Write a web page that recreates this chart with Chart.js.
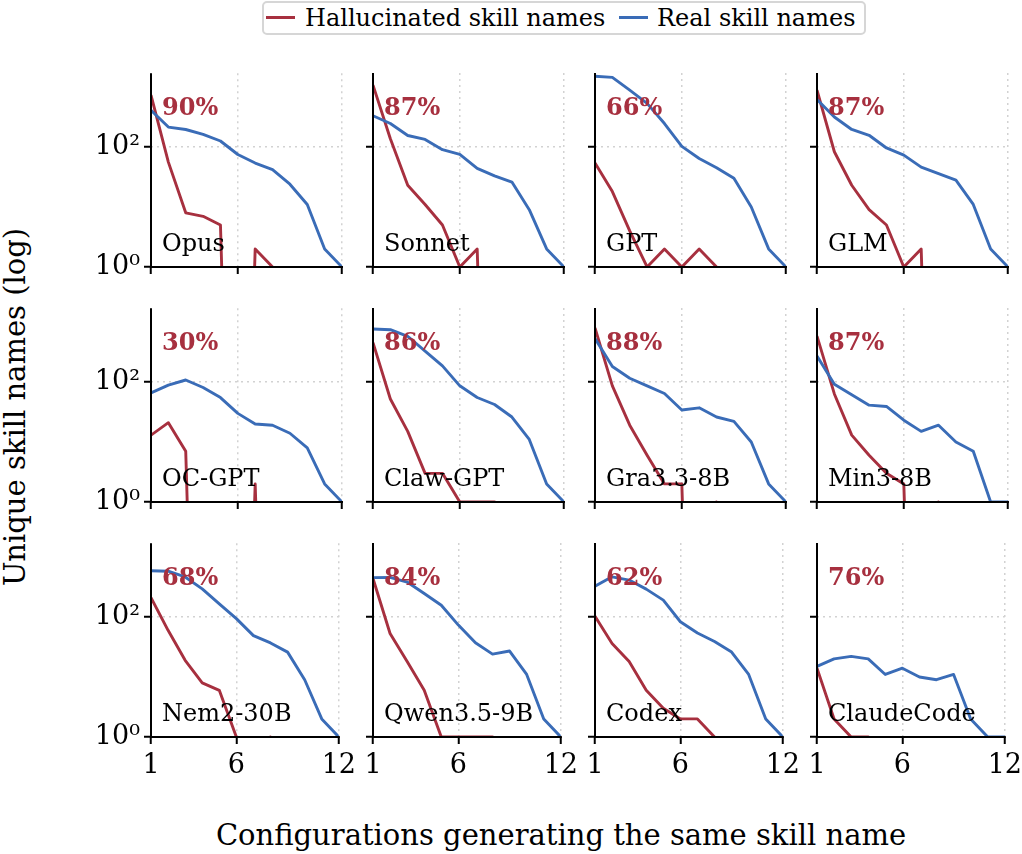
<!DOCTYPE html>
<html>
<head>
<meta charset="utf-8">
<script src="https://cdn.jsdelivr.net/npm/chart.js@4.4.1/dist/chart.umd.min.js"></script>
<style>
  body { margin: 0; background: #fff; font-family: 'DejaVu Serif', serif; }
  #fig { position: relative; width: 1022px; height: 854px; overflow: hidden; }
  #fig canvas { position: absolute; }
  .txt { position: absolute; white-space: nowrap; line-height: 1; font-family: 'DejaVu Serif', serif; }
  .pct { font-size: 24px; font-weight: bold; color: #a7303f; }
  .name { font-size: 24px; color: #000; }
  .legend-box { position: absolute; left: 262px; top: 1px; width: 600px; height: 30px;
                border: 2px solid #d6d6d6; border-radius: 5px; }
  .swatch { position: absolute; height: 3px; width: 29px; top: 16px; }
  .axis-title { position: absolute; font-family: 'DejaVu Serif', serif; font-size: 29px;
                white-space: nowrap; line-height: 1; }
</style>
</head>
<body>
<div id="fig">
  <div class="legend-box"></div>
  <div class="swatch" style="left:266px;background:#a7303f"></div>
  <div class="txt" style="left:305px;top:6px;font-size:24px">Hallucinated skill names</div>
  <div class="swatch" style="left:619px;background:#3a6cb7"></div>
  <div class="txt" style="left:657px;top:6px;font-size:24px">Real skill names</div>
  <div class="axis-title" style="left:15px;top:407px;transform:translate(-50%,-50%) rotate(-90deg)">Unique skill names (log)</div>
  <div class="axis-title" style="left:561px;top:835px;transform:translate(-50%,-50%)">Configurations generating the same skill name</div>
</div>
<script>
// x = number of configurations generating the same name
const configs = [1, 2, 3, 4, 5, 6, 7, 8, 9, 10, 11, 12];
const xTicks = [1, 6, 12];
const yTicks = [1, 100];
const yTickLabels = ['10⁰', '10²'];

const panelNames = ['Opus', 'Sonnet', 'GPT', 'GLM',
                    'OC-GPT', 'Claw-GPT', 'Gra3.3-8B', 'Min3-8B',
                    'Nem2-30B', 'Qwen3.5-9B', 'Codex', 'ClaudeCode'];
const hallucinatedShare = ['90%', '87%', '66%', '87%',
                           '30%', '86%', '88%', '87%',
                           '68%', '84%', '62%', '76%'];

// unique skill names per x value (0 = none)
const opusHal = [730, 56, 8, 7, 5, 0, 2, 1, 0, 0, 0, 0];
const opusReal = [410, 215, 196, 163, 126, 75, 54, 42, 24, 11, 2, 1];
const sonnetHal = [1070, 137, 23, 11, 5, 1, 2, 0, 0, 0, 0, 0];
const sonnetReal = [330, 245, 155, 133, 90, 75, 44, 33, 26, 9, 2, 1];
const gptHal = [54, 18, 4, 1, 2, 1, 2, 1, 0, 0, 0, 0];
const gptReal = [1500, 1440, 880, 530, 245, 102, 64, 45, 30, 10, 2, 1];
const glmHal = [880, 83, 23, 9, 5, 1, 2, 0, 0, 0, 0, 0];
const glmReal = [615, 315, 195, 156, 96, 73, 46, 36, 28, 11, 2, 1];
const ocGptHal = [13, 21, 7, 0, 0, 0, 2, 0, 0, 0, 0, 0];
const ocGptReal = [66, 89, 108, 81, 55, 30, 20, 19, 14, 8, 2, 1];
const clawGptHal = [450, 52, 15, 3, 3, 1, 1, 1, 0, 0, 0, 0];
const clawGptReal = [760, 740, 575, 325, 185, 86, 55, 42, 26, 11, 2, 1];
const graHal = [790, 86, 19, 6, 2, 2, 0, 1, 0, 0, 0, 0];
const graReal = [530, 180, 115, 86, 64, 34, 37, 26, 22, 10, 2, 1];
const minHal = [580, 63, 13, 6, 3, 2, 0, 1, 0, 0, 0, 0];
const minReal = [270, 91, 61, 41, 39, 23, 15, 19, 10, 7, 1, 1];
const nemHal = [210, 60, 19, 8, 6, 1, 0, 1, 0, 0, 0, 0];
const nemReal = [590, 580, 465, 295, 166, 94, 49, 37, 26, 9, 2, 1];
const qwenHal = [435, 53, 18, 6, 1, 1, 1, 1, 0, 0, 0, 0];
const qwenReal = [450, 455, 380, 245, 156, 73, 37, 24, 27, 11, 2, 1];
const codexHal = [102, 36, 18, 6, 3, 2, 2, 1, 0, 0, 0, 0];
const codexReal = [325, 465, 410, 290, 190, 83, 54, 39, 26, 11, 2, 1];
const claudeCodeHal = [14, 2, 1, 1, 0, 0, 0, 0, 0, 0, 0, 0];
const claudeCodeReal = [15, 20, 22, 20, 11, 14, 10, 9, 11, 2, 1, 1];

const halSeries = [opusHal, sonnetHal, gptHal, glmHal, ocGptHal, clawGptHal,
                   graHal, minHal, nemHal, qwenHal, codexHal, claudeCodeHal];
const realSeries = [opusReal, sonnetReal, gptReal, glmReal, ocGptReal, clawGptReal,
                    graReal, minReal, nemReal, qwenReal, codexReal, claudeCodeReal];

const RED = '#a7303f';
const BLUE = '#3a6cb7';
const Y_MAX = 1700;

// layout of the 3x4 grid (plot areas in page pixels)
const plotLeft = [151, 373, 595, 817];
const plotTop = [73, 308, 543];
const PLOT_W = 191, PLOT_H = 194;
const AXIS_W = 80, AXIS_H = 50, PAD_T = 20, PAD_R = 20;

const fig = document.getElementById('fig');

// zero counts are clipped far below the axis, like a log plot does
const toPoints = (arr) => arr.map((v, i) => ({ x: configs[i], y: v === 0 ? 1e-9 : v }));

// draw the left/bottom spines over the lines
const spinesOnTop = {
    id: 'spinesOnTop',
    afterDatasetsDraw(chart) {
        const { ctx, chartArea: a } = chart;
        ctx.save();
        ctx.strokeStyle = '#000';
        ctx.lineWidth = 2;
        ctx.beginPath();
        ctx.moveTo(a.left, a.top);
        ctx.lineTo(a.left, a.bottom + 1);
        ctx.moveTo(a.left - 1, a.bottom);
        ctx.lineTo(a.right + 1, a.bottom);
        ctx.stroke();
        ctx.restore();
    }
};

const gridOpts = {
    color: '#d2d2d2',
    lineWidth: 1.5,
    tickColor: '#000',
    tickLength: 7,
    tickWidth: 2,
    tickBorderDash: []
};
const tickFont = { family: 'DejaVu Serif', size: 27 };

const addText = (cls, text, left, top) => {
    const el = document.createElement('div');
    el.className = 'txt ' + cls;
    el.textContent = text;
    el.style.left = left + 'px';
    el.style.top = top + 'px';
    fig.appendChild(el);
};

const makePanel = (idx) => {
    const row = Math.floor(idx / 4);
    const col = idx % 4;
    const left = plotLeft[col];
    const top = plotTop[row];

    const canvas = document.createElement('canvas');
    canvas.width = AXIS_W + PLOT_W + PAD_R;
    canvas.height = PAD_T + PLOT_H + AXIS_H;
    canvas.style.left = (left - AXIS_W) + 'px';
    canvas.style.top = (top - PAD_T) + 'px';
    fig.appendChild(canvas);

    new Chart(canvas.getContext('2d'), {
        type: 'line',
        data: {
            datasets: [{
                label: 'Hallucinated skill names',
                data: toPoints(halSeries[idx]),
                borderColor: RED,
                order: 1
            }, {
                label: 'Real skill names',
                data: toPoints(realSeries[idx]),
                borderColor: BLUE,
                order: 0
            }]
        },
        options: {
            responsive: false,
            animation: false,
            devicePixelRatio: 1,
            layout: { padding: { top: PAD_T, right: PAD_R, left: 0, bottom: 0 } },
            elements: {
                point: { radius: 0 },
                line: { borderWidth: 2.9, tension: 0, borderJoinStyle: 'round', fill: false }
            },
            plugins: { legend: { display: false }, tooltip: { enabled: false } },
            scales: {
                x: {
                    type: 'linear',
                    min: 1,
                    max: 12,
                    afterBuildTicks: (s) => { s.ticks = xTicks.map(v => ({ value: v })); },
                    afterFit: (s) => { s.height = AXIS_H; },
                    border: { display: false, dash: [2, 4] },
                    grid: gridOpts,
                    ticks: {
                        display: row === 2,
                        padding: 6,
                        color: '#000',
                        maxRotation: 0,
                        font: tickFont,
                        callback: (v) => String(v)
                    }
                },
                y: {
                    type: 'logarithmic',
                    min: 1,
                    max: Y_MAX,
                    afterBuildTicks: (s) => { s.ticks = yTicks.map(v => ({ value: v })); },
                    afterFit: (s) => { s.width = AXIS_W; },
                    border: { display: false, dash: [2, 4] },
                    grid: gridOpts,
                    ticks: {
                        display: col === 0,
                        padding: 4,
                        color: '#000',
                        font: tickFont,
                        callback: (v) => yTickLabels[yTicks.indexOf(v)]
                    }
                }
            }
        },
        plugins: [spinesOnTop]
    });

    addText('pct', hallucinatedShare[idx], left + 11, top + 22);
    addText('name', panelNames[idx], left + 11, top + PLOT_H - 36);
};

for (let i = 0; i < panelNames.length; i++) makePanel(i);
</script>
</body>
</html>
